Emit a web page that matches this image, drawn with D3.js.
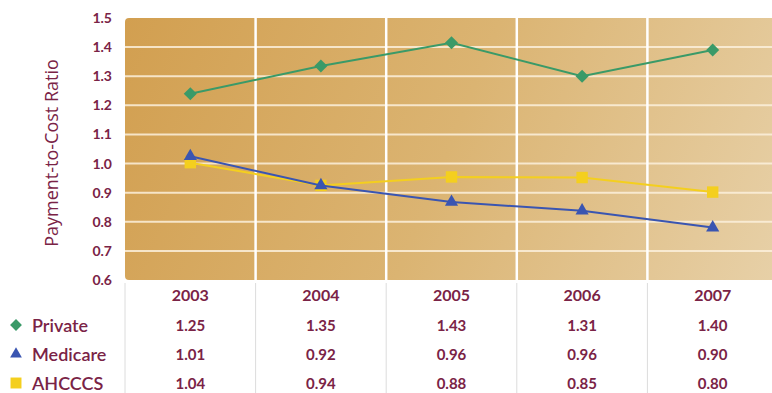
<!DOCTYPE html>
<html>
<head>
<meta charset="utf-8">
<script src="https://cdn.jsdelivr.net/npm/d3@7"></script>
<style>
  body { margin: 0; background: #fff; }
  svg { display: block; font-family: Lato, "Open Sans", sans-serif; }
</style>
</head>
<body>
<div id="chart"></div>
<script>
// years and table values
const years = ['2003', '2004', '2005', '2006', '2007'];
const yTicks = [0.6, 0.7, 0.8, 0.9, 1.0, 1.1, 1.2, 1.3, 1.4, 1.5];

const privateTable = ['1.25', '1.35', '1.43', '1.31', '1.40'];
const medicareTable = ['1.01', '0.92', '0.96', '0.96', '0.90'];
const ahcccsTable = ['1.04', '0.94', '0.88', '0.85', '0.80'];

// values as plotted in the chart
const diamondLine = [1.24, 1.335, 1.415, 1.30, 1.39];
const triangleLine = [1.025, 0.925, 0.868, 0.838, 0.78];
const squareLine = [1.003, 0.925, 0.954, 0.952, 0.902];

const width = 772, height = 393;
const maroon = '#7a2346';

const svg = d3.select('#chart').append('svg')
  .attr('width', width)
  .attr('height', height);

const x = d3.scaleBand().domain(years).range([125, 778]);
const y = d3.scaleLinear().domain([0.6, 1.5]).range([280, 18]);

// background gradient
const grad = svg.append('defs').append('linearGradient')
  .attr('id', 'bg')
  .attr('gradientUnits', 'userSpaceOnUse')
  .attr('x1', 125).attr('y1', 18)
  .attr('x2', 772).attr('y2', 280);
grad.append('stop').attr('offset', '0%').attr('stop-color', '#d29f50');
grad.append('stop').attr('offset', '50%').attr('stop-color', '#dbb472');
grad.append('stop').attr('offset', '100%').attr('stop-color', '#e7d0a7');

svg.append('rect')
  .attr('x', x.range()[0])
  .attr('y', y(1.5))
  .attr('width', x.range()[1] - x.range()[0])
  .attr('height', y(0.6) - y(1.5))
  .attr('rx', 4)
  .attr('fill', 'url(#bg)');

// horizontal grid
svg.selectAll('.hgrid')
  .data(yTicks.slice(1, -1))
  .enter()
  .append('line')
  .attr('x1', x.range()[0])
  .attr('x2', x.range()[1])
  .attr('y1', d => y(d))
  .attr('y2', d => y(d))
  .attr('stroke', '#fbf0dc')
  .attr('stroke-opacity', 0.85)
  .attr('stroke-width', 2);

// vertical separators
svg.selectAll('.vgrid')
  .data(years.slice(1))
  .enter()
  .append('line')
  .attr('x1', d => x(d))
  .attr('x2', d => x(d))
  .attr('y1', y(1.5))
  .attr('y2', y(0.6))
  .attr('stroke', '#fff')
  .attr('stroke-width', 2.5);

// table separators
svg.selectAll('.tsep')
  .data(years)
  .enter()
  .append('line')
  .attr('x1', d => x(d))
  .attr('x2', d => x(d))
  .attr('y1', y(0.6) + 3)
  .attr('y2', height)
  .attr('stroke', '#dcdcdc')
  .attr('stroke-width', 1);

// y axis
const yAxis = svg.append('g')
  .attr('transform', `translate(${x.range()[0]},0)`)
  .call(d3.axisLeft(y).tickValues(yTicks).tickFormat(d3.format('.1f')).tickSize(0).tickPadding(13));
yAxis.select('.domain').remove();
yAxis.selectAll('text')
  .attr('fill', maroon)
  .style('font-size', '14px')
  .style('font-weight', 700)
  .style('font-family', 'Lato, sans-serif');

svg.append('text')
  .attr('transform', `translate(51, 153) rotate(-90)`)
  .attr('text-anchor', 'middle')
  .attr('dominant-baseline', 'central')
  .attr('fill', maroon)
  .style('font-size', '18px')
  .style('font-family', '"Open Sans", sans-serif')
  .text('Payment-to-Cost Ratio');

// lines
const cx = d => x(d) + x.bandwidth() / 2;
const series = [
  { values: squareLine, color: '#f4cf1e', symbol: d3.symbolSquare, size: 130, rot: 0 },
  { values: triangleLine, color: '#3a55b1', symbol: d3.symbolTriangle, size: 75, rot: 0 },
  { values: diamondLine, color: '#3a9a68', symbol: d3.symbolSquare, size: 85, rot: 45 }
];

const line = d3.line()
  .x((d, i) => cx(years[i]))
  .y(d => y(d));

series.forEach(s => {
  svg.append('path')
    .datum(s.values)
    .attr('d', line)
    .attr('fill', 'none')
    .attr('stroke', s.color)
    .attr('stroke-width', 2);

  svg.selectAll(null)
    .data(s.values)
    .enter()
    .append('path')
    .attr('transform', (d, i) => `translate(${cx(years[i])},${y(d)}) rotate(${s.rot})`)
    .attr('d', d3.symbol().type(s.symbol).size(s.size))
    .attr('fill', s.color);
});

// year header
const xAxis = svg.append('g')
  .attr('transform', `translate(0,${y(0.6)})`)
  .call(d3.axisBottom(x).tickSize(0).tickPadding(10));
xAxis.select('.domain').remove();
xAxis.selectAll('text')
  .attr('fill', maroon)
  .style('font-size', '16px')
  .style('font-weight', 700)
  .style('font-family', 'Lato, sans-serif');

// table rows
const rows = [
  { label: 'Private', vals: privateTable, color: '#3a9a68', symbol: d3.symbolSquare, size: 70, rot: 45 },
  { label: 'Medicare', vals: medicareTable, color: '#3a55b1', symbol: d3.symbolTriangle, size: 60, rot: 0 },
  { label: 'AHCCCS', vals: ahcccsTable, color: '#f4cf1e', symbol: d3.symbolSquare, size: 120, rot: 0 }
];
const rowY = d3.scalePoint().domain(rows.map(r => r.label)).range([325, 383]);

rows.forEach(r => {
  const ry = rowY(r.label);
  svg.append('path')
    .attr('transform', `translate(16,${ry}) rotate(${r.rot})`)
    .attr('d', d3.symbol().type(r.symbol).size(r.size))
    .attr('fill', r.color);
  svg.append('text')
    .attr('x', 32)
    .attr('y', ry)
    .attr('dominant-baseline', 'central')
    .attr('fill', maroon)
    .style('font-size', '18px')
    .style('font-weight', 600)
    .text(r.label);
  svg.selectAll(null)
    .data(r.vals)
    .enter()
    .append('text')
    .attr('x', (d, i) => cx(years[i]))
    .attr('y', ry)
    .attr('text-anchor', 'middle')
    .attr('dominant-baseline', 'central')
    .attr('fill', maroon)
    .style('font-size', '15px')
    .style('font-weight', 700)
    .text(d => d);
});
</script>
</body>
</html>
